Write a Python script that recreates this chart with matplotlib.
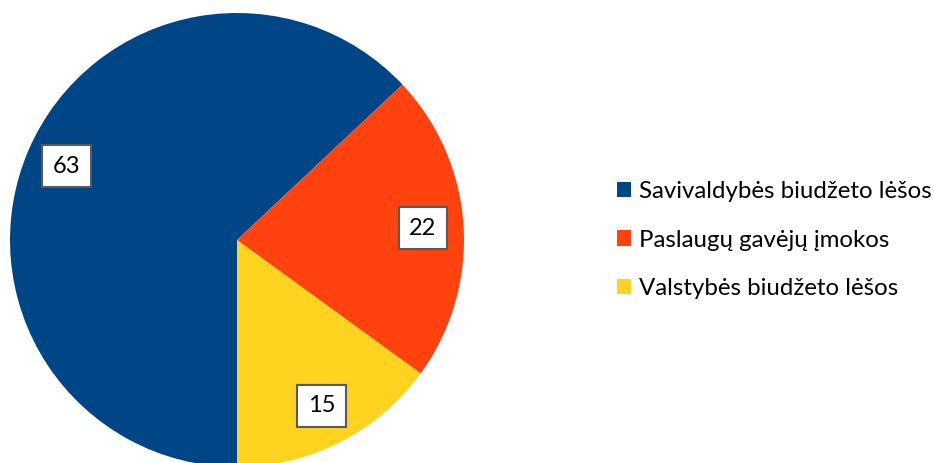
import matplotlib
matplotlib.use("Agg")
import matplotlib.pyplot as plt
from matplotlib.patches import Patch

# ── Data ─────────────────────────────────────────────────────────────────────
labels = ["Savivaldybės biudžeto lėšos", "Paslaugų gavėjų įmokos", "Valstybės biudžeto lėšos"]
values = [63, 22, 15]
colors = ["#004586", "#FF420E", "#FFD320"]

plt.rcParams['font.family'] = ['Lato', 'DejaVu Sans']

W, H = 934, 463
fig = plt.figure(figsize=(W / 100, H / 100), dpi=100)

# pie centre (237, 240) px from top-left, radius 227 px
cx, cy, r = 237, H - 240, 227
ax = fig.add_axes([(cx - r) / W, (cy - r) / H, 2 * r / W, 2 * r / H])

wedges, texts, autotexts = ax.pie(
    values, colors=colors, startangle=-90, counterclock=False, radius=1,
    autopct=lambda p: f"{p:.0f}", pctdistance=0.82,
    wedgeprops=dict(linewidth=0),
    textprops=dict(fontsize=17, color='black'))
for t in autotexts:
    t.set_bbox(dict(boxstyle='square,pad=0.45', facecolor='white',
                    edgecolor='#595959', linewidth=1.5))

ax.set_xlim(-1, 1)
ax.set_ylim(-1, 1)
ax.set_aspect('equal')
ax.axis('off')

handles = [Patch(facecolor=c, edgecolor='none') for c in colors]
fig.legend(handles, labels, loc='center left', bbox_to_anchor=(607 / W, 1 - 240 / H),
           frameon=False, fontsize=17.3, handlelength=0.6, handleheight=0.6,
           handletextpad=0.35, labelspacing=1.15, borderaxespad=0)

fig.savefig("out.png", dpi=100)
